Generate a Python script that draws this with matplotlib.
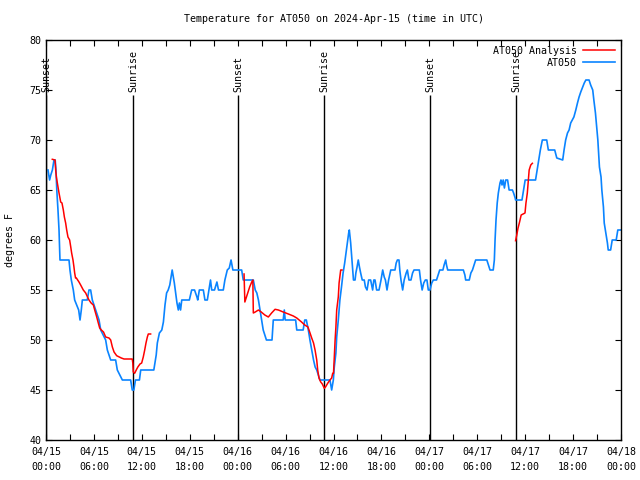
"""Temperature trace for AT050 with sunrise / sunset markers"""

import numpy as np
import matplotlib

matplotlib.use("Agg")
import matplotlib.pyplot as plt

plt.rcParams["font.family"] = ["DejaVu Sans Mono"]
plt.rcParams["font.size"] = 7

COLOR_RED = "#ff0000"
COLOR_BLUE = "#0a84ff"

# Hours since 2024-04-15 00:00 UTC, and temperature (deg F)
at050_hours = [
    0.25, 0.45, 0.6, 0.8, 1.0, 1.15, 1.25, 1.35, 1.5, 1.63, 1.71, 1.75, 2.88,
    3.0, 3.17, 3.42, 3.59, 4.09, 4.26, 4.42, 4.55, 5.17, 5.38, 5.59, 5.8, 6.22,
    6.64, 6.85, 7.47, 7.68, 8.1, 8.72, 8.93, 9.56, 10.6, 10.8, 11.0, 11.2, 11.7,
    11.86, 13.5, 13.8, 13.94, 14.2, 14.5, 14.7, 14.9, 15.1, 15.3, 15.5, 15.7,
    15.8, 15.9, 16.07, 16.24, 16.4, 16.57, 16.7, 16.85, 17.0, 17.95, 18.24,
    18.6, 18.9, 19.0, 19.2, 19.7, 19.9, 20.2, 20.4, 20.6, 20.75, 21.1, 21.4,
    21.6, 22.2, 22.4, 22.7, 22.95, 23.17, 23.4, 24.5, 24.7, 25.96, 26.2, 26.4,
    26.6, 26.8, 27.0, 27.2, 27.6, 28.3, 28.38, 28.46, 29.7, 29.84, 29.95, 31.26,
    31.4, 32.2, 32.4, 32.6, 32.85, 33.05, 33.27, 33.5, 33.7, 33.9, 34.1, 34.3,
    35.56, 35.77, 35.98, 36.1, 36.3, 36.4, 36.6, 36.8, 37.0, 37.2, 37.4, 37.57,
    37.75, 37.9, 37.98, 38.15, 38.28, 38.4, 38.5, 38.7, 38.8, 38.95, 39.1,
    39.25, 39.4, 39.6, 39.85, 40.0, 40.2, 40.4, 40.65, 40.9, 41.05, 41.2, 41.4,
    41.7, 41.95, 42.16, 42.35, 42.5, 42.7, 42.9, 43.17, 43.7, 43.85, 44.0,
    44.2, 44.3, 44.45, 44.66, 44.85, 45.1, 45.25, 45.45, 45.7, 45.9, 46.08,
    46.75, 46.9, 47.1, 47.3, 47.5, 47.7, 47.87, 48.08, 48.3, 48.5, 48.9, 49.1,
    49.3, 49.7, 49.85, 50.05, 50.15, 50.3, 52.26, 52.45, 52.55, 53.0, 53.2,
    53.4, 53.6, 53.8, 55.2, 55.4, 55.6, 56.0, 56.14, 56.23, 56.35, 56.5, 56.64,
    56.85, 56.97, 57.1, 57.25, 57.4, 57.57, 57.8, 57.99, 58.4, 58.55, 58.75,
    58.8, 59.6, 59.8, 60.0, 61.3, 61.5, 61.7, 61.9, 62.15, 62.7, 62.9, 63.7,
    63.96, 64.7, 64.87, 65.07, 65.3, 65.5, 65.7, 65.9, 66.1, 66.34, 66.55,
    66.75, 66.96, 67.15, 67.4, 67.6, 68.0, 68.2, 68.46, 68.6, 68.8, 68.95,
    69.1, 69.2, 69.3, 69.5, 69.6, 69.8, 69.9, 70.1, 70.3, 70.4, 70.7, 70.9,
    71.4, 71.6, 72.0,
]
at050_temp = [
    67, 66, 66.5, 67, 68, 68, 67, 65, 63, 61, 59, 58, 58,
    57, 56, 55, 54, 53, 52, 53, 54, 54, 55, 55, 54, 53,
    52, 51, 50, 49, 48, 48, 47, 46, 46, 45, 45, 46, 46,
    47, 47, 48.5, 49.7, 50.7, 51, 51.8, 53.5, 54.7, 55, 55.5, 56.5,
    57, 56.5, 55.7, 54.7, 53.7, 53, 53.7, 53, 54, 54, 55,
    55, 54.3, 54, 55, 55, 54, 54, 55, 56, 55, 55, 55.8,
    55, 55, 56, 57, 57.2, 58, 57, 57, 56, 56, 55, 54.7,
    54, 53, 52, 51, 50, 50, 51, 52, 52, 53, 52, 52,
    51, 51, 52, 52, 51, 50, 49, 48, 47.3, 47, 46.5, 46,
    46, 45, 46, 47.3, 48.7, 50.3, 52, 54, 55.3, 56.7, 57.7, 58.7,
    59.7, 60.7, 61, 59.7, 58.3, 57, 56, 56, 56.7, 57.3, 58,
    57.3, 56.7, 56, 56, 55.3, 55, 56, 56, 55, 56, 56, 55,
    55, 56, 57, 56.3, 56, 55, 56, 57, 57, 57.7, 58,
    58, 57, 56, 55, 56, 56.7, 57, 56, 56, 56.7, 57,
    57, 56, 55, 55.7, 56, 56, 55, 55, 55.7, 56, 56, 56.5,
    57, 57, 57.5, 58, 57.5, 57, 57, 56.5, 56, 56, 56.7,
    57, 57.5, 58, 58, 57.5, 57, 57, 58, 60, 62, 63.7, 64.7,
    65.7, 66, 65.5, 66, 65.2, 66, 66, 65, 65, 64.7, 64.2,
    64, 64, 65, 66, 66, 67, 68, 69, 70, 70, 69, 69,
    68.2, 68, 69, 70, 70.7, 71, 71.7, 72, 72.3, 73, 73.7,
    74.3, 74.8, 75.2, 75.7, 76, 76, 75.5, 75, 74, 72.7, 71.3,
    70, 68.7, 67.3, 66.3, 65, 63.3, 61.7, 60.7, 59.7, 59, 59, 60,
    60, 61, 61,
]

# Analysis series, three pieces separated by gaps (nan)
analysis_hours = [
    0.79, 1.13, 1.21, 1.3, 1.42, 1.63, 1.84, 2.0, 2.17, 2.3, 2.46, 2.59, 2.75,
    2.96, 3.1, 3.21, 3.38, 3.5, 3.59, 3.7, 3.8, 4.13, 4.34, 4.67, 4.97, 5.2,
    5.38, 5.65, 5.93, 6.1, 6.35, 6.55, 6.72, 6.93, 7.2, 7.47, 7.89, 8.1, 8.31,
    8.52, 8.85, 9.43, 9.77, 10.8, 10.87, 10.93, 11.1, 11.3, 11.5, 11.77, 11.98,
    12.18, 12.36, 12.52, 12.69, 12.81, 13.1,
    13.2,
    24.8, 24.9, 25.1, 25.3, 25.5, 25.76, 25.9, 25.96, 26.2, 26.6, 26.95, 27.4,
    27.84, 28.25, 28.68, 29.1, 29.7, 30.35, 30.97, 31.4, 32.0, 32.4, 32.8,
    33.06, 33.27, 33.5, 33.69, 33.9, 34.02, 34.18, 34.4, 34.6, 34.85, 35.0,
    35.27, 35.56, 35.77, 35.9, 36.0, 36.1, 36.2, 36.3, 36.4, 36.6, 36.7, 36.9,
    37.06,
    37.2,
    58.8, 58.95, 59.1, 59.3, 59.5, 59.98, 60.1, 60.27, 60.4, 60.5, 60.7, 60.9,
]
analysis_temp = [
    68.07, 68, 67, 66.3, 65.7, 64.7, 63.8, 63.7, 63, 62.3, 61.7, 61, 60.3,
    60, 59.3, 58.7, 58, 57.3, 56.7, 56.2, 56.2, 55.8, 55.5, 55, 54.7, 54.3,
    54, 53.7, 53.5, 53, 52.3, 51.7, 51.2, 51, 50.8, 50.3, 50.2, 50, 49.3,
    48.8, 48.43, 48.2, 48.1, 48.1, 47.7, 46.8, 46.67, 47, 47.3, 47.6, 47.7,
    48.3, 49, 49.7, 50.3, 50.6, 50.6,
    np.nan,
    56.6, 53.8, 54.3, 54.8, 55.3, 55.8, 56, 52.7, 52.8, 53, 52.8, 52.5,
    52.3, 52.7, 53.07, 53, 52.8, 52.6, 52.4, 52.2, 51.8, 51.5, 51.3,
    50.7, 50.2, 49.7, 49, 48, 47, 46.2, 45.8, 45.6, 45.17, 45.3,
    45.67, 46, 46.2, 46.67, 46.67, 48.3, 50, 51.3, 53, 54.3, 55.7, 57,
    57,
    np.nan,
    59.93, 60.5, 61.17, 61.8, 62.5, 62.7, 63.7, 64.7, 66, 67, 67.5, 67.67,
]

event_hours = [0.05, 10.89, 24.04, 34.81, 48.08, 58.85]
event_labels = ["Sunset", "Sunrise", "Sunset", "Sunrise", "Sunset", "Sunrise"]

tick_hours = list(range(0, 73, 6))
tick_labels = [
    "04/15\n00:00", "04/15\n06:00", "04/15\n12:00", "04/15\n18:00",
    "04/16\n00:00", "04/16\n06:00", "04/16\n12:00", "04/16\n18:00",
    "04/17\n00:00", "04/17\n06:00", "04/17\n12:00", "04/17\n18:00",
    "04/18\n00:00",
]

fig = plt.figure(figsize=(6.4, 4.8), dpi=100)
ax = fig.add_axes([46 / 640, 40 / 480, 575 / 640, 400 / 480])

# Sunrise / sunset markers
for hour, label in zip(event_hours, event_labels):
    ax.vlines(hour, 40, 74.5, color="black", lw=1.0, zorder=1)
    ax.text(hour, 74.75, label, rotation=90, ha="center", va="bottom",
            fontsize=7.2)

ax.plot(analysis_hours, analysis_temp, color=COLOR_RED, lw=1.1,
        label="AT050 Analysis", zorder=3)
ax.plot(at050_hours, at050_temp, color=COLOR_BLUE, lw=1.2, label="AT050",
        zorder=2)

ax.set_xlim(0, 72)
ax.set_ylim(40, 80)
ax.set_xticks(tick_hours)
ax.set_xticklabels(tick_labels, linespacing=1.6)
ax.set_xticks(range(3, 72, 6), minor=True)
ax.set_yticks(range(40, 81, 5))
ax.tick_params(which="both", direction="in", top=True, right=True,
               length=4, width=0.8, labelsize=7.2)
ax.tick_params(axis="x", pad=5)
ax.set_ylabel("degrees F", fontsize=7.2, labelpad=10)
ax.set_title("Temperature for AT050 on 2024-Apr-15 (time in UTC)",
             fontsize=7.2, pad=13)
for spine in ax.spines.values():
    spine.set_linewidth(1.0)

ax.legend(loc="upper right", markerfirst=False, frameon=False,
          handlelength=3.2, handletextpad=0.6, labelspacing=0.2,
          borderaxespad=0.2, fontsize=7.2)

fig.savefig("out.png", dpi=100)
